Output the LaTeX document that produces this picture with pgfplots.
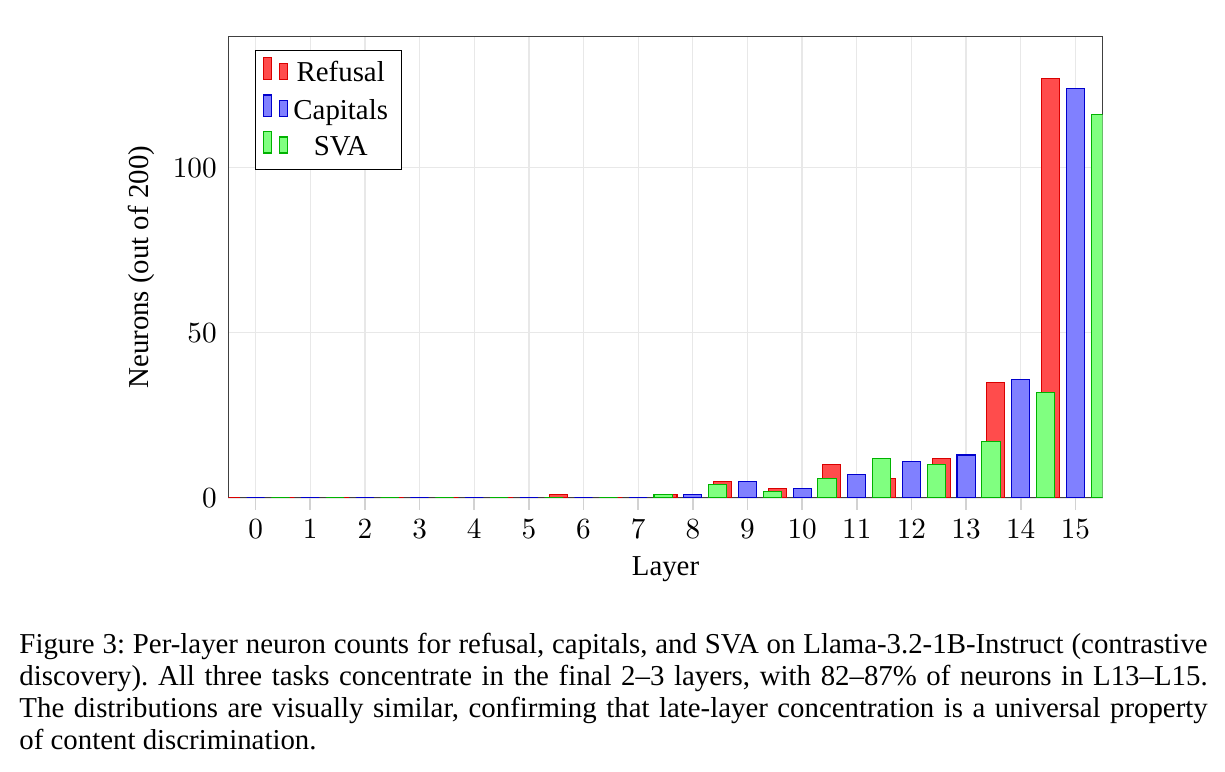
\documentclass[border=0pt]{standalone}
\usepackage{fontspec}
\setmainfont{Liberation Serif}
\usepackage{pgfplots}
\pgfplotsset{compat=1.18}

\begin{document}
\begin{tikzpicture}
\begin{axis}[
  scale only axis,
  width=327.5pt, height=172.8pt,
  xmin=-0.5, xmax=15.5,
  ymin=0, ymax=139.7,
  xtick={0,...,15},
  ytick={0,50,100},
  ybar=2.53pt,
  bar width=6.8pt,
  grid=major,
  major grid style={gray!18, line width=0.5pt},
  axis line style={black!75},
  xtick pos=left,
  tick align=outside,
  major tick length=4.5pt,
  x tick style={gray!35, line width=0.6pt},
  y tick style={draw=none},
  yticklabel style={xshift=3.7pt},
  xlabel={Layer},
  ylabel={Neurons (out of 200)},
  legend pos=north west,
  legend cell align=center,
  legend style={draw=black, row sep=0.9pt, font=\fontsize{10.8pt}{13pt}\selectfont},
  label style={font=\fontsize{10.8pt}{13pt}\selectfont},
  tick label style={font=\fontsize{10.8pt}{13pt}\selectfont},
]
% Refusal
\addplot[fill=red!70, draw=red!85!black] coordinates {
  (0,0) (1,0) (2,0) (3,0) (4,0) (5,0) (6,1) (7,0)
  (8,1) (9,5) (10,3) (11,10) (12,6) (13,12) (14,35) (15,127)};
% Capitals
\addplot[fill=blue!50, draw=blue!80!black] coordinates {
  (0,0) (1,0) (2,0) (3,0) (4,0) (5,0) (6,0) (7,0)
  (8,1) (9,5) (10,3) (11,7) (12,11) (13,13) (14,36) (15,124)};
% SVA
\addplot[fill=green!50, draw=green!70!black] coordinates {
  (0,0) (1,0) (2,0) (3,0) (4,0) (5,0) (6,0) (7,1)
  (8,4) (9,2) (10,6) (11,12) (12,10) (13,17) (14,32) (15,116)};
\legend{Refusal, Capitals, SVA}
\end{axis}
% caption below the plot
\node[anchor=north west, inner sep=0pt, text width=445pt, align=justify,
      font=\fontsize{10.8pt}{12pt}\selectfont\frenchspacing] at (-78.4pt,-50.4pt)
  {Figure 3: Per-layer neuron counts for refusal, capitals, and SVA on Llama-3.2-1B-Instruct (contrastive\linebreak
   discovery). All three tasks concentrate in the final 2--3 layers, with 82--87\% of neurons in L13--L15.\linebreak
   The distributions are visually similar, confirming that late-layer concentration is a universal property\linebreak
   of content discrimination.};
\path[use as bounding box] (-85.5pt,-102.3pt) rectangle (373.3pt,186.5pt);
\end{tikzpicture}
\end{document}
